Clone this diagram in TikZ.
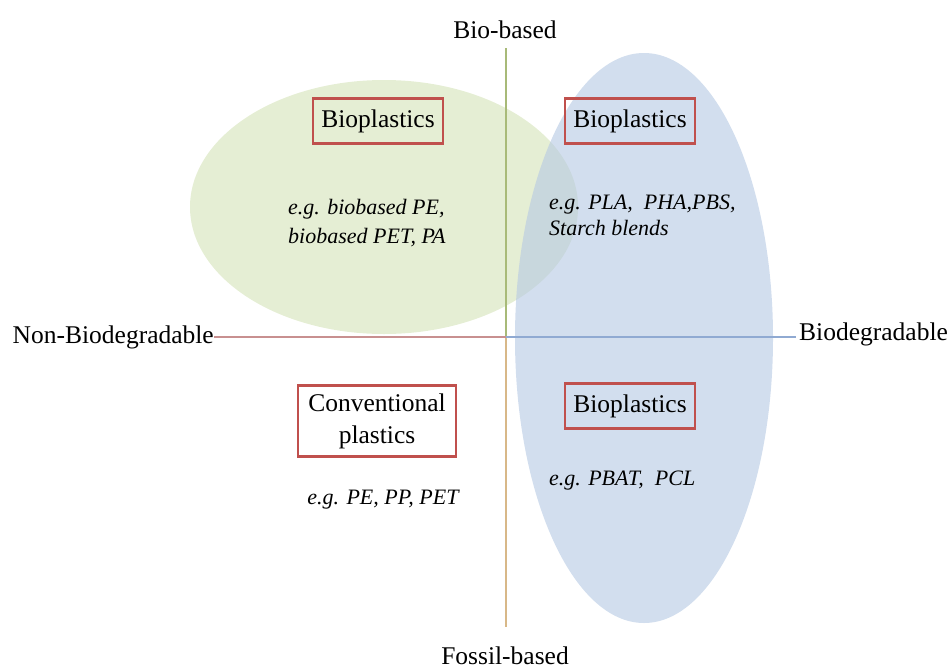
\documentclass[tikz,border=0pt]{standalone}
\usepackage{fontspec}
\setmainfont{Liberation Serif}
\begin{document}
\begin{tikzpicture}[x=1pt,y=-1pt,
  axislabel/.style={font=\fontsize{25.5}{30}\selectfont, inner sep=0pt},
  axisline/.style={line width=1.6pt},
  classbox/.style={draw=boxred, line width=2.2pt, font=\fontsize{25.5}{32}\selectfont,
    align=center, inner xsep=8pt, inner ysep=6pt, minimum height=45pt},
  example/.style={font=\fontsize{22}{26}\itshape, align=left, inner sep=0pt},
  blob/.style={fill opacity=0.6}]
\definecolor{boxred}{HTML}{C0504D}
\definecolor{biogreen}{HTML}{D4E2B8}
\definecolor{degblue}{HTML}{B4C8E2}
\definecolor{axgreen}{HTML}{A8BA78}
\definecolor{axtan}{HTML}{D8B888}
\definecolor{axred}{HTML}{C89090}
\definecolor{axblue}{HTML}{90AAD2}
\useasboundingbox (0,0) rectangle (950,670);

% the two overlapping groups
\fill[biogreen, blob] (384,207) ellipse [x radius=194, y radius=127];
\fill[degblue, blob] (644,338) ellipse [x radius=129, y radius=285];

% axis labels
\node[axislabel] (bio) at (505,30) {Bio-based};
\node[axislabel, anchor=base] (fossil) at (505,664) {Fossil-based};
\node[axislabel, anchor=east] (nonbio) at (214,337) {Non-Biodegradable};
\node[axislabel, anchor=west] (biodeg) at (799,334) {Biodegradable};

% axes
\coordinate (origin) at (506,337);
\coordinate (top) at (506,48);
\coordinate (bottom) at (506,627);
\coordinate (right) at (796,337);
\draw[axgreen, axisline] (top) -- (origin);
\draw[axtan, axisline] (origin) -- (bottom);
\draw[axred, axisline] (nonbio.east |- origin) -- (origin);
\draw[axblue, axisline] (origin) -- (right);

% quadrant categories
\node[classbox] (tl) at (378,121) {Bioplastics};
\node[classbox] (tr) at (630,121) {Bioplastics};
\node[classbox, inner xsep=10pt, inner ysep=8pt] (bl) at (377,421) {Conventional\\plastics};
\node[classbox] (br) at (630,406) {Bioplastics};

% examples
\node[example, anchor=west] (extl) at (288,223) {e.g. biobased PE,\\[3pt]biobased PET, PA};
\node[example, anchor=west] (extr) at (549,215) {e.g. PLA,\ \ PHA,PBS,\\Starch blends};
\node[example, anchor=west] (exbr) at (549,481) {e.g. PBAT,\ \ PCL};
\node[example] (exbl) at (383,500) {e.g. PE, PP, PET};
\end{tikzpicture}
\end{document}
